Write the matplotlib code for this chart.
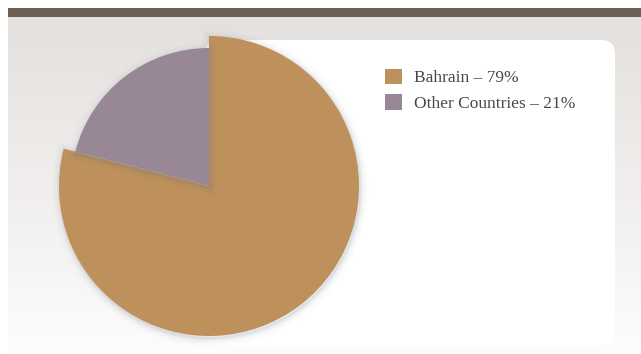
import numpy as np
import matplotlib
matplotlib.use("Agg")
import matplotlib.pyplot as plt
from matplotlib.patches import FancyBboxPatch, Rectangle, Wedge, Patch

# Data
labels = ["Bahrain", "Other Countries"]
shares = [79, 21]
colors = ["#BE915C", "#988896"]
legend_labels = [f"{l} \u2013 {v}%" for l, v in zip(labels, shares)]

W, H = 641, 354
fig = plt.figure(figsize=(W / 100, H / 100), dpi=100)
ax = fig.add_axes([0, 0, 1, 1])

# Gradient backdrop below the header bar
grad = np.linspace(0, 1, 256)[:, None]
top = np.array([0.890, 0.878, 0.867])
bot = np.array([0.995, 0.99, 0.988])
img = top[None, None, :] * (1 - grad[..., None]) + bot[None, None, :] * grad[..., None]
ax.imshow(img, extent=(8, W, 0, H - 16), aspect="auto", zorder=0)

# Header bar
ax.add_patch(Rectangle((8, H - 17), W - 8, 9, color="#6C5F56", zorder=1, lw=0))

# White panel (its left side sits behind the pie)
ax.add_patch(FancyBboxPatch((205, 8), 410, H - 40 - 8,
                            boxstyle="round,pad=0,rounding_size=14",
                            fc="white", ec="none", zorder=1))

cx, cy, R = 209, H - 186, 150
radii = [R, 138]

wedges, _ = ax.pie(shares, colors=colors, startangle=90, counterclock=False,
                   center=(cx, cy), radius=R, frame=True,
                   wedgeprops=dict(lw=0))
for w, r, z in zip(wedges, radii, [3, 4]):
    w.set_radius(r)
    w.set_zorder(z)
    # soft shadow following the slice outline
    for lw, a in [(12, 0.02), (8, 0.03), (5, 0.045), (3, 0.06), (1.5, 0.08)]:
        ax.add_patch(Wedge((cx + 1, cy - 2), r, w.theta1, w.theta2, fc="none",
                           ec=(0.42, 0.44, 0.52, a), lw=lw, zorder=z - 0.5))

ax.set_xlim(0, W)
ax.set_ylim(0, H)
ax.set_aspect("auto")
ax.axis("off")

handles = [Patch(fc=c, ec="none") for c in colors]
leg = ax.legend(handles, legend_labels, loc="upper left",
                bbox_to_anchor=(376, H - 60), bbox_transform=ax.transData,
                frameon=False, handlelength=1.0, handleheight=1.0,
                handletextpad=0.7, labelspacing=0.45, borderpad=0,
                prop=dict(family="Liberation Serif", size=12.5),
                labelcolor="#4A4646")

fig.savefig("out.png", dpi=100)
